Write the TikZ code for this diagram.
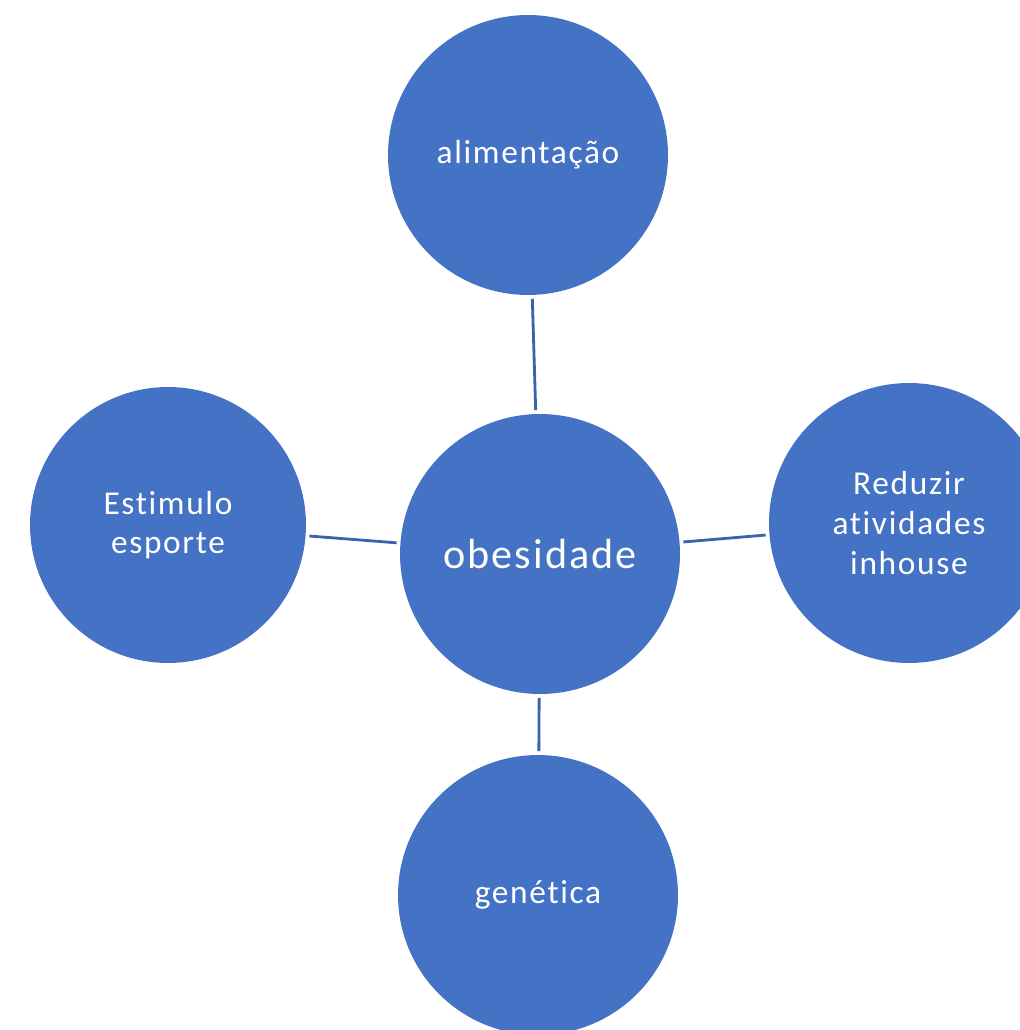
\documentclass[tikz,border=0pt]{standalone}
\usepackage{fontspec}
\setmainfont[LetterSpace=5,Ligatures=NoCommon]{Carlito}
\definecolor{circblue}{HTML}{4472C4}
\definecolor{linkblue}{HTML}{3B62AE}

\begin{document}
\begin{tikzpicture}[x=0.02cm,y=-0.02cm,shorten >=2pt,shorten <=2pt,
    topic/.style={circle,fill=circblue,text=white,inner sep=0pt,
        minimum size=5.6cm,align=center,font=\fontsize{19}{22.5}\selectfont},
    link/.style={draw=linkblue,line width=1.6pt}]

            \useasboundingbox (0,0) rectangle (1019,1030);

            \node[topic,font=\fontsize{24}{28}\selectfont] (o) at (540,554) {obesidade};

            \node[topic] (a) at (528,155) {alimentação};

            \node[topic,minimum size=5.52cm] (e) at (168,525) {Estimulo\\esporte};

            \node[topic] (r) at (909,523) {Reduzir\\atividades\\inhouse};

            \node[topic] (g) at (538,895) {genética};

            

            \path[link] (o) edge (a)

                            edge (e)

                            edge (r)

                            edge (g);

            \end{tikzpicture}
\end{document}
